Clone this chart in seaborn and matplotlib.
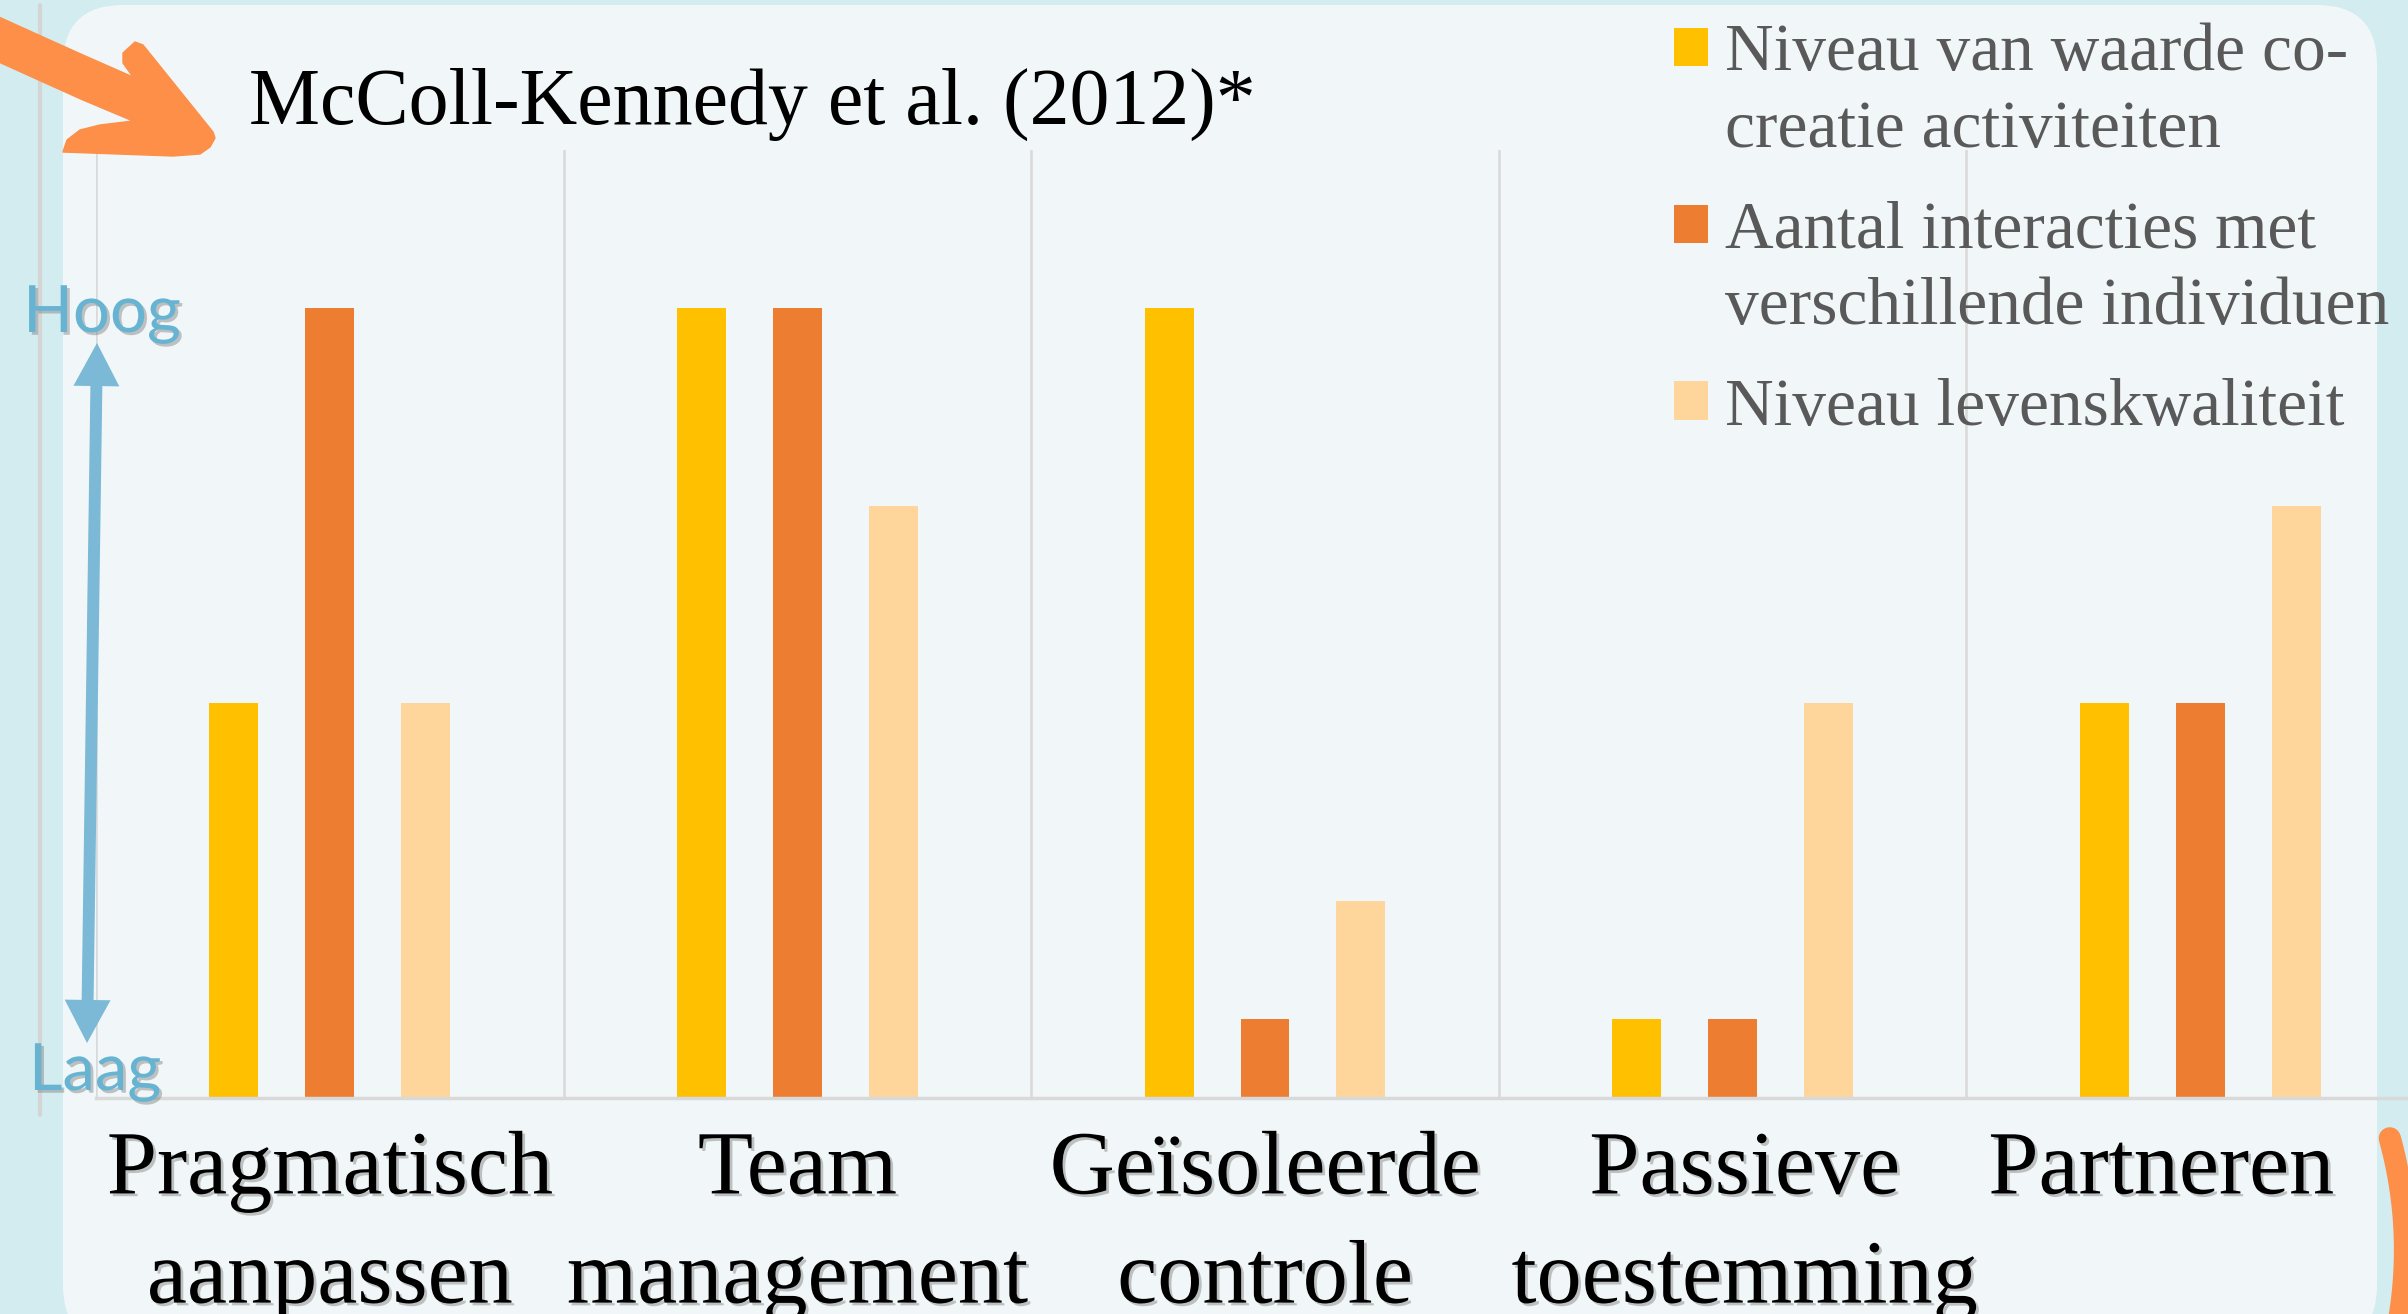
import numpy as np
import pandas as pd
import seaborn as sns
import matplotlib.pyplot as plt
import matplotlib.patheffects as pe
from matplotlib.patches import FancyBboxPatch, FancyArrowPatch, Arc, Patch, Rectangle, ArrowStyle, PathPatch
from matplotlib.path import Path
from matplotlib.transforms import IdentityTransform, ScaledTranslation
from matplotlib.legend_handler import HandlerPatch

W, H, DPI = 2408, 1314, 100

# data (0 = laag, 10 = hoog)
categorieen = ["Pragmatisch\naanpassen", "Team\nmanagement", "Geïsoleerde\ncontrole",
               "Passieve\ntoestemming", "Partneren"]
reeksen = ["Niveau van waarde co-\ncreatie activiteiten",
           "Aantal interacties met\nverschillende individuen",
           "Niveau levenskwaliteit"]
cocreatie = [5, 10, 10, 1, 5]
interacties = [10, 10, 1, 1, 5]
levenskwaliteit = [5, 7.5, 2.5, 5, 7.5]
kleuren = ["#ffc000", "#ed7d31", "#fed69b"]
titel = "McColl-Kennedy et al. (2012)*"

df = pd.DataFrame({
    "categorie": categorieen * 3,
    "reeks": [r for r in reeksen for _ in categorieen],
    "waarde": cocreatie + interacties + levenskwaliteit,
})

sns.set_style("white")
plt.rcParams['font.family'] = ['Liberation Serif', 'DejaVu Serif']

fig = plt.figure(figsize=(W / DPI, H / DPI), dpi=DPI, facecolor="#d3ecf0")
px = IdentityTransform()


def fx(x):
    return x / W


def fy(y):
    return 1 - y / H


# slide background: light panel + thin grey line on the left
fig.add_artist(FancyBboxPatch((63, H - 1345), 2377 - 63, 1345 - 5,
                              boxstyle="round,pad=0,rounding_size=60",
                              fc="#f1f7f8", ec="none", transform=px, zorder=-5))
fig.add_artist(plt.Line2D([40, 40], [H - 5, H - 1115], color="#d5d5d5", lw=3,
                          transform=px, zorder=-4))

ax = fig.add_axes([fx(96), fy(1098), 2338 / W, 948 / H])
ax.set_facecolor("none")
sns.barplot(data=df, x="categorie", y="waarde", hue="reeks", order=categorieen,
            hue_order=reeksen, palette=kleuren, saturation=1, width=0.615, gap=0.49,
            errorbar=None, legend=False, linewidth=0, ax=ax)

ax.set_xlim(-0.5, 4.5)
ax.set_ylim(0, 12)
ax.set_xlabel("")
ax.set_ylabel("")
ax.set_yticks([])
for s in ["left", "top", "right"]:
    ax.spines[s].set_visible(False)
ax.spines["bottom"].set_color("#d9d9d9")
ax.spines["bottom"].set_linewidth(2.5)
ax.set_xticks(np.arange(-0.5, 5.0, 1), minor=True)
ax.grid(which="major", visible=False)
ax.grid(which="minor", axis="x", color="#d9d9d9", lw=1.8)
ax.tick_params(axis="x", which="both", length=0, pad=23, labelsize=65, colors="black")

shadow = [pe.withSimplePatchShadow(offset=(2, -2), shadow_rgbFace="#7f7f7f", alpha=0.45)]
label_shift = [0, 0, 0, 12, -39]
for lbl, dx in zip(ax.get_xticklabels(), label_shift):
    lbl.set_linespacing(1.42)
    lbl.set_path_effects(shadow)
    lbl.set_transform(lbl.get_transform() + ScaledTranslation(dx / DPI, 0, fig.dpi_scale_trans))

fig.text(fx(249), fy(124), titel, fontsize=57.5, ha="left", va="baseline", color="black")


# legend: square sits next to the first line of each label
def make_handler(lift):
    def f(legend, orig_handle, xdescent, ydescent, width, height, fontsize):
        return Rectangle((-xdescent, -ydescent + lift * fontsize), width, height)
    return HandlerPatch(patch_func=f)


handles = [Patch(facecolor=c, edgecolor="none") for c in kleuren]
hmap = {h: make_handler(0.66 if "\n" in lab else 0) for h, lab in zip(handles, reeksen)}
leg = ax.legend(handles, reeksen, handler_map=hmap, loc="upper left",
                bbox_to_anchor=(fx(1674), fy(23)), bbox_transform=fig.transFigure,
                frameon=False, fontsize=48.5, labelcolor="#595959",
                handlelength=0.5, handleheight=0.5, handletextpad=0.25,
                labelspacing=0.59, borderpad=0, borderaxespad=0)
for t in leg.get_texts():
    t.set_linespacing(1.33)

# Hoog / Laag with double arrow
blauw_txt = "#67b3d2"
blauw = "#7bb9d6"
fig.text(fx(102), fy(332), "Hoog", family=["Lato", "DejaVu Sans"], fontsize=47,
         color=blauw_txt, ha="center", va="baseline", path_effects=shadow)
fig.text(fx(95), fy(1090), "Laag", family=["Lato", "DejaVu Sans"], fontsize=47,
         color=blauw_txt, ha="center", va="baseline", path_effects=shadow)
pijl = ArrowStyle("simple", head_length=31, head_width=33, tail_width=8.6)
for tip in [(97, 343), (87, 1043)]:
    fig.add_artist(FancyArrowPatch((92, H - 693), (tip[0], H - tip[1]), arrowstyle=pijl,
                                   mutation_scale=1, shrinkA=0, shrinkB=0, color=blauw,
                                   lw=0, transform=px, zorder=3))

# orange slide decorations (outline in image pixels, y downwards)
oranje = "#fd8f49"
pijl_omtrek = [(-10, 13), (43, 37), (83, 55), (133, 77), (123, 63), (123, 53), (135, 42),
               (143, 45), (213, 132), (215, 138), (210, 147), (200, 154), (173, 156),
               (63, 152), (67, 140), (80, 130), (100, 125), (133, 121), (83, 100),
               (43, 82), (-10, 58)]
verts = [(x, H - y) for x, y in pijl_omtrek] + [(0, 0)]
codes = [Path.MOVETO] + [Path.LINETO] * (len(pijl_omtrek) - 1) + [Path.CLOSEPOLY]
fig.add_artist(PathPatch(Path(verts, codes), fc=oranje, ec=oranje, lw=1,
                         joinstyle="round", transform=px, zorder=4))
fig.add_artist(Arc((1987, H - 1250), 836, 836, theta1=-12, theta2=15.5, color=oranje,
                   lw=16, capstyle="round", transform=px, zorder=4))

fig.savefig("out.png", dpi=DPI, facecolor=fig.get_facecolor())
